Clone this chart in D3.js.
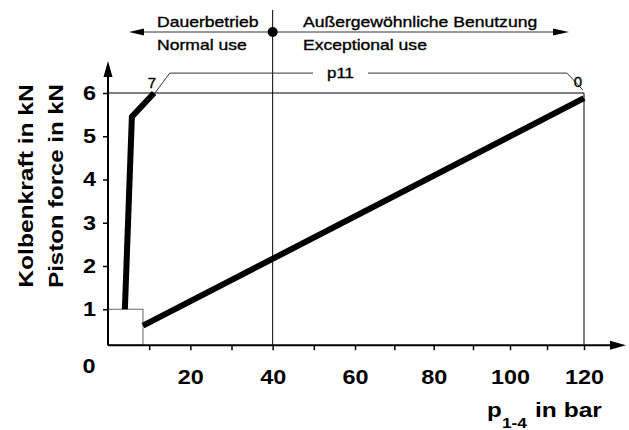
<!DOCTYPE html>
<html>
<head>
<meta charset="utf-8">
<script src="https://cdn.jsdelivr.net/npm/d3@7"></script>
<style>
  body { margin: 0; background: #fff; }
  text { font-family: "Liberation Sans", Arial, sans-serif; fill: #000; }
  .thin { stroke: #000; stroke-width: 0.35px; }
</style>
</head>
<body>
<svg id="chart" width="629" height="430"></svg>
<script>
// values
const xTicks = [10, 20, 30, 40, 50, 60, 70, 80, 90, 100, 110, 120];
const yTicks = [1, 2, 3, 4, 5, 6];
const curve7 = [[4.1, 1], [5.8, 5.45], [11.2, 6]];        // p11 = 7
const curve0 = [[8.5, 0.62], [120, 5.88]];                 // p11 = 0
const startBox = [8.5, 1];
const bracketLeft = [[11.4, 6], [15, 6.46], [49.8, 6.46]];
const bracketRight = [[63.3, 6.46], [115.4, 6.46], [119.7, 6.07]];
const limit = 40;
const xMax = 120, yMax = 6, yFloor = 0.17;

const svg = d3.select('#chart');

// the x axis of the drawing is not quite even, so the scale is piecewise
const x = d3.scaleLinear().domain([0, 60, 90, 120]).range([108, 355, 473, 584]);
const y = d3.scaleLinear().domain([0, yMax]).range([352.5, 93]);

// stretch text a little, the original font runs wide
function stretch(sel, k) {
  sel.each(function () {
    const w = this.getComputedTextLength();
    d3.select(this).attr('textLength', w * k).attr('lengthAdjust', 'spacingAndGlyphs');
  });
}

function arrowHead(tx, ty, dir, len, half) {
  let pts;
  if (dir === 'up') pts = [[tx, ty], [tx - half, ty + len], [tx + half, ty + len]];
  else if (dir === 'right') pts = [[tx, ty], [tx - len, ty - half], [tx - len, ty + half]];
  else pts = [[tx, ty], [tx + len, ty - half], [tx + len, ty + half]];
  svg.append('path').attr('d', 'M' + pts.join('L') + 'Z').attr('fill', '#000');
}

const y0 = y(yFloor);
const line = d3.line().x(d => x(d[0])).y(d => y(d[1]));

// thin reference lines
svg.append('line')
  .attr('x1', x(0)).attr('x2', x(xMax))
  .attr('y1', y(yMax)).attr('y2', y(yMax))
  .attr('stroke', '#000').attr('stroke-width', 1);
svg.append('line')
  .attr('x1', x(xMax)).attr('x2', x(xMax))
  .attr('y1', y(yMax)).attr('y2', y0)
  .attr('stroke', '#000').attr('stroke-width', 1);
svg.append('line')
  .attr('x1', x(limit)).attr('x2', x(limit))
  .attr('y1', y(7.92)).attr('y2', y0)
  .attr('stroke', '#000').attr('stroke-width', 1);

// box at the start
svg.append('rect')
  .attr('x', x(0)).attr('y', y(startBox[1]))
  .attr('width', x(startBox[0]) - x(0))
  .attr('height', y0 - y(startBox[1]))
  .attr('fill', 'none').attr('stroke', '#666').attr('stroke-width', 1);

// p11 bracket
[bracketLeft, bracketRight].forEach(b => {
  svg.append('path').attr('d', line(b))
    .attr('fill', 'none').attr('stroke', '#333').attr('stroke-width', 1);
});
svg.append('text').attr('class', 'thin')
  .attr('x', (x(bracketLeft[2][0]) + x(bracketRight[0][0])) / 2)
  .attr('y', y(6.46) + 5)
  .attr('text-anchor', 'middle').style('font-size', '15px')
  .text('p11').call(stretch, 1.12);
svg.append('text').attr('class', 'thin')
  .attr('x', x(bracketLeft[0][0]) - 3).attr('y', y(yMax) - 5)
  .attr('text-anchor', 'middle').style('font-size', '15px')
  .text('7');
svg.append('text').attr('class', 'thin')
  .attr('x', x(bracketRight[2][0]) - 5).attr('y', y(yMax) - 6)
  .attr('text-anchor', 'middle').style('font-size', '15px')
  .text('0');

// the two force curves
[curve7, curve0].forEach(c => {
  svg.append('path').attr('d', line(c))
    .attr('fill', 'none').attr('stroke', '#000').attr('stroke-width', 6)
    .attr('stroke-linejoin', 'miter').attr('stroke-linecap', 'butt');
});

// axes
const xAxis = d3.axisBottom(x)
  .tickValues(xTicks)
  .tickSize(5).tickPadding(20)
  .tickFormat(d => d % 20 ? '' : d);
const gx = svg.append('g').attr('transform', 'translate(0,' + y0 + ')').call(xAxis);
gx.select('.domain').remove();
gx.selectAll('line').attr('stroke-width', 1.5);
gx.selectAll('text').style('font-size', '20px').style('font-weight', 'bold')
  .attr('fill', '#000').call(stretch, 1.17);

const yAxis = d3.axisLeft(y).tickValues(yTicks).tickSize(5).tickPadding(7)
  .tickFormat(d3.format('d'));
const gy = svg.append('g').attr('transform', 'translate(' + x(0) + ',0)').call(yAxis);
gy.select('.domain').remove();
gy.selectAll('line').attr('stroke-width', 1.5);
gy.selectAll('text').style('font-size', '20px').style('font-weight', 'bold')
  .attr('fill', '#000').call(stretch, 1.17);

svg.append('text')
  .attr('x', x(0) - 19).attr('y', y0 + 28)
  .attr('text-anchor', 'middle')
  .style('font-size', '20px').style('font-weight', 'bold')
  .text('0').call(stretch, 1.17);

// axis lines with arrows
svg.append('line')
  .attr('x1', x(0)).attr('x2', 612).attr('y1', y0).attr('y2', y0)
  .attr('stroke', '#000').attr('stroke-width', 2);
arrowHead(626, y0, 'right', 16, 4.5);
svg.append('line')
  .attr('x1', x(0)).attr('x2', x(0)).attr('y1', y0).attr('y2', 74)
  .attr('stroke', '#000').attr('stroke-width', 2);
arrowHead(x(0), 61, 'up', 16, 4.5);

// axis titles
svg.append('text').attr('x', 487).attr('y', 417)
  .style('font-size', '21px').style('font-weight', 'bold')
  .text('p').call(stretch, 1.15);
svg.append('text').attr('x', 502).attr('y', 428)
  .style('font-size', '15px').style('font-weight', 'bold')
  .text('1-4').call(stretch, 1.15);
svg.append('text').attr('x', 535).attr('y', 417)
  .style('font-size', '21px').style('font-weight', 'bold')
  .text('in bar').call(stretch, 1.17);

const yTitle = svg.append('g').attr('transform', 'translate(0,186) rotate(-90)');
yTitle.append('text').attr('x', 0).attr('y', 33)
  .attr('text-anchor', 'middle')
  .style('font-size', '21px').style('font-weight', 'bold')
  .text('Kolbenkraft in kN').call(stretch, 1.17);
yTitle.append('text').attr('x', 0).attr('y', 63)
  .attr('text-anchor', 'middle')
  .style('font-size', '21px').style('font-weight', 'bold')
  .text('Piston force in kN').call(stretch, 1.14);

// top annotation: normal / exceptional use
const arrowY = 32;
svg.append('line')
  .attr('x1', 140).attr('x2', 556).attr('y1', arrowY).attr('y2', arrowY)
  .attr('stroke', '#333').attr('stroke-width', 1);
arrowHead(129, arrowY, 'left', 15, 3.5);
arrowHead(569, arrowY, 'right', 16, 3.5);
svg.append('circle').attr('cx', x(limit)).attr('cy', arrowY).attr('r', 5).attr('fill', '#000');

const topLabels = [
  { text: 'Dauerbetrieb', x: 157, y: arrowY - 5 },
  { text: 'Normal use', x: 157, y: arrowY + 18 },
  { text: 'Außergewöhnliche Benutzung', x: 303, y: arrowY - 5 },
  { text: 'Exceptional use', x: 303, y: arrowY + 18 }
];
svg.selectAll('.top-label')
  .data(topLabels)
  .enter().append('text')
  .attr('class', 'top-label thin')
  .attr('x', d => d.x).attr('y', d => d.y)
  .style('font-size', '15px')
  .text(d => d.text)
  .call(stretch, 1.17);
</script>
</body>
</html>
